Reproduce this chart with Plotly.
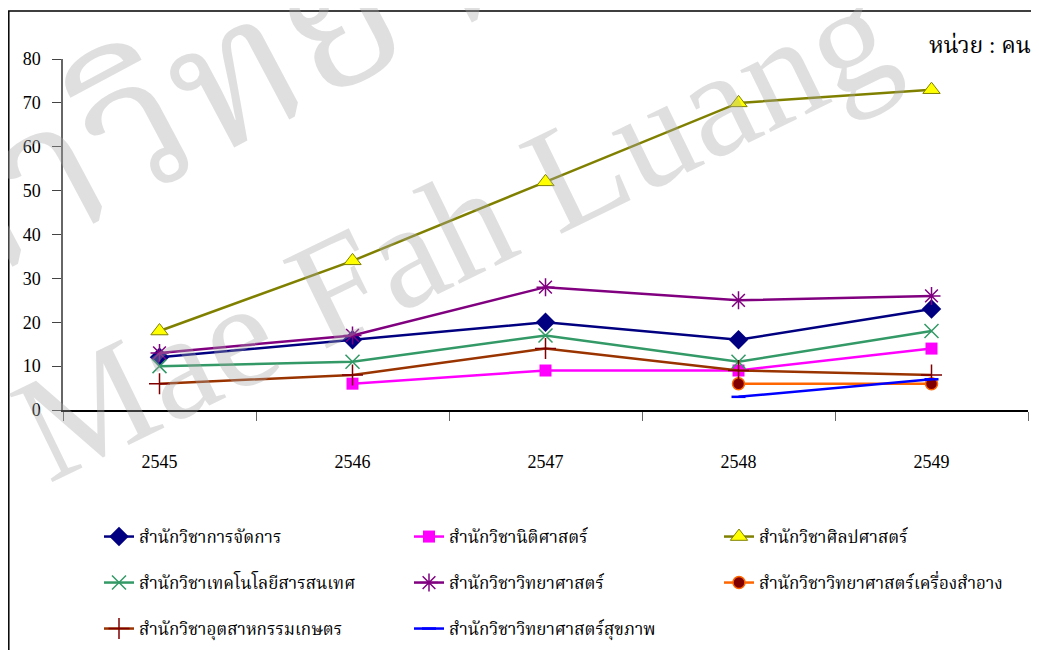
import plotly.graph_objects as go

years = ["2545", "2546", "2547", "2548", "2549"]

management = [12, 16, 20, 16, 23]
law = [None, 6, 9, 9, 14]
liberal_arts = [18, 34, 52, 70, 73]
info_tech = [10, 11, 17, 11, 18]
science = [13, 17, 28, 25, 26]
cosmetic = [None, None, None, 6, 6]
agro_industry = [6, 8, 14, 9, 8]
health = [None, None, None, 3, 7]

FONT = "Liberation Serif, Noto Serif Thai, Noto Sans Thai, Tlwg Typo, serif"

# page body has an 8px margin, so the figure is drawn 8px smaller
W, H = 1031, 642
L, R, T, B = 55, 11, 51, 240
PW, PH = W - L - R, H - T - B


def px(x):
    return (x - L) / PW


def py(y):
    return (H - B - y) / PH


series = [
    ("สำนักวิชาการจัดการ", management, "#000080",
     dict(symbol="diamond", size=15, color="#000080"), "legend"),
    ("สำนักวิชานิติศาสตร์", law, "#FF00FF",
     dict(symbol="square", size=12, color="#FF00FF"), "legend"),
    ("สำนักวิชาศิลปศาสตร์", liberal_arts, "#808000",
     dict(symbol="triangle-up", size=15, color="#FFFF00", line=dict(color="#808000", width=1)), "legend"),
    ("สำนักวิชาเทคโนโลยีสารสนเทศ", info_tech, "#339966",
     dict(symbol="x-thin-open", size=14, color="#339966", line=dict(color="#339966", width=1.5)), "legend2"),
    ("สำนักวิชาวิทยาศาสตร์", science, "#800080",
     dict(symbol="asterisk-open", size=15, color="#800080", line=dict(color="#800080", width=1.5)), "legend2"),
    ("สำนักวิชาวิทยาศาสตร์เครื่องสำอาง", cosmetic, "#FF6600",
     dict(symbol="circle", size=12, color="#800000", line=dict(color="#FF6600", width=1.5)), "legend2"),
    ("สำนักวิชาอุตสาหกรรมเกษตร", agro_industry, "#993300",
     dict(symbol="cross-thin-open", size=15, color="#800000", line=dict(color="#800000", width=1.5)), "legend3"),
    ("สำนักวิชาวิทยาศาสตร์สุขภาพ", health, "#0000FF",
     dict(symbol="line-ew-open", size=10, color="#0000FF", line=dict(color="#0000FF", width=2.5)), "legend3"),
]

fig = go.Figure()
for name, vals, color, marker, leg in series:
    fig.add_trace(go.Scatter(
        x=years, y=vals, name=name, mode="lines+markers",
        line=dict(color=color, width=2.5), marker=marker,
        legend=leg, connectgaps=False,
    ))

legend_common = dict(
    orientation="h", xanchor="left", yanchor="middle", x=px(91),
    entrywidth=265, entrywidthmode="pixels",
    font=dict(family=FONT, size=17, color="black"),
    bgcolor="rgba(0,0,0,0)", itemclick=False,
)

wm = "rgba(165,165,165,0.36)"

fig.update_layout(
    width=W, height=H,
    margin=dict(l=L, r=R, t=T, b=B, autoexpand=False),
    paper_bgcolor="white", plot_bgcolor="white",
    font=dict(family=FONT, size=17, color="black"),
    legend=dict(legend_common, y=py(529)),
    legend2=dict(legend_common, y=py(575)),
    legend3=dict(legend_common, y=py(621)),
    xaxis=dict(
        type="category", range=[-0.5, 4.5], tickson="boundaries",
        showline=True, linecolor="black", linewidth=1.5,
        ticks="outside", ticklen=9, tickcolor="#666666",
        ticklabelstandoff=35, showgrid=False, zeroline=False,
        tickfont=dict(family=FONT, size=18),
    ),
    yaxis=dict(
        range=[0, 80], dtick=10, showline=True, linecolor="#666666",
        linewidth=1.5, ticks="outside", ticklen=9, tickcolor="#444444",
        ticklabelstandoff=8, showgrid=False, zeroline=False,
        tickfont=dict(family=FONT, size=18),
    ),
    shapes=[
        dict(type="rect", xref="paper", yref="paper",
             x0=px(0.8), x1=px(W + 20), y0=py(H + 20), y1=py(3),
             line=dict(color="black", width=1.5), fillcolor="rgba(0,0,0,0)"),
    ],
    annotations=[
        dict(text="หน่วย : คน", xref="paper", yref="paper",
             x=px(1025), y=py(37), xanchor="right", yanchor="middle",
             showarrow=False, font=dict(family=FONT, size=23, color="black")),
        dict(text="Mae Fah Luang", xref="paper", yref="paper",
             x=px(445), y=py(222), xanchor="center", yanchor="middle",
             textangle=-26, showarrow=False,
             font=dict(family=FONT, size=150, color=wm)),
        dict(text="มหาวิทยาลัยแม่ฟ้าหลวง", xref="paper", yref="paper",
             x=px(625), y=py(-145), xanchor="center", yanchor="middle",
             textangle=-28, showarrow=False,
             font=dict(family=FONT, size=190, color=wm)),
    ],
    showlegend=True,
)

fig.write_html("out.html")
